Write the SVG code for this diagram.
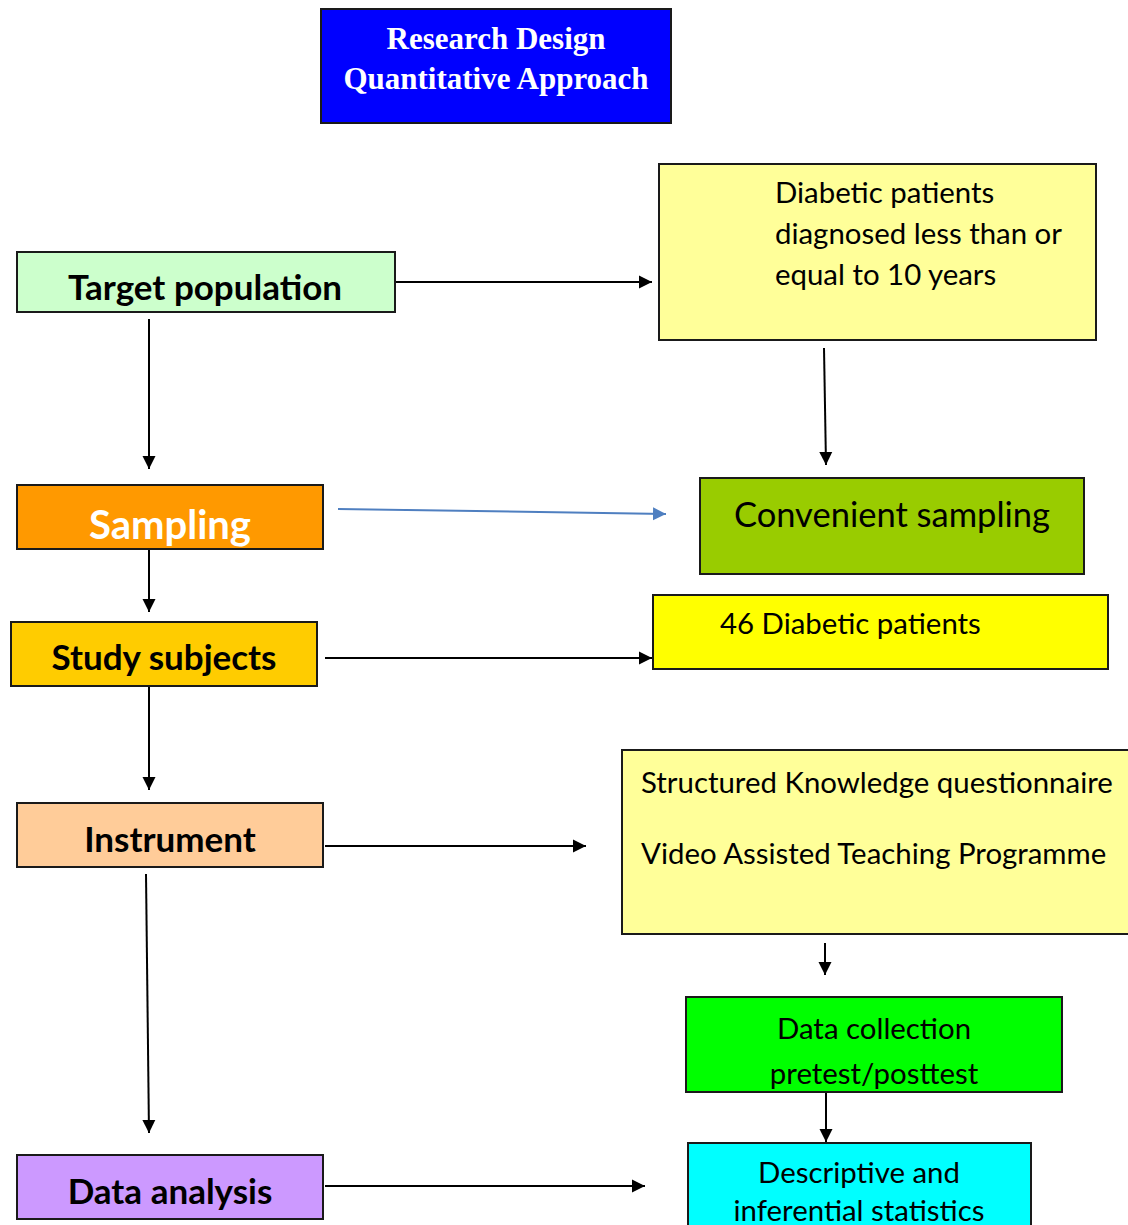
<svg xmlns="http://www.w3.org/2000/svg" width="1128" height="1225" viewBox="0 0 1128 1225">
<style>
.box{stroke:#1a1a1a;stroke-width:2}
.t{font-family:Lato,"Open Sans","Liberation Sans",sans-serif;fill:#000}
.b{font-weight:bold;font-size:35px}
.n{font-size:29.4px}
.c{stroke:#000;stroke-width:2;fill:none;marker-end:url(#ah)}
</style>
<defs>
<marker id="ah" viewBox="0 0 10 10" refX="10" refY="5" markerWidth="13" markerHeight="14" markerUnits="userSpaceOnUse" orient="auto"><path d="M0,0L10,5L0,10z" fill="#000"/></marker>
<marker id="ahb" viewBox="0 0 10 10" refX="10" refY="5" markerWidth="13" markerHeight="14" markerUnits="userSpaceOnUse" orient="auto"><path d="M0,0L10,5L0,10z" fill="#4F7FC0"/></marker>
</defs>
<rect width="1128" height="1225" fill="#fff"/>
<g id="connectors">
<path class="c" d="M396,282H652"/>
<path class="c" d="M149,319V469"/>
<path class="c" d="M824,348L826,465"/>
<path d="M338,509L666,514" stroke="#4F7FC0" stroke-width="2" fill="none" marker-end="url(#ahb)"/>
<path class="c" d="M149,549V612"/>
<path class="c" d="M325,658H652"/>
<path class="c" d="M149,683V790"/>
<path class="c" d="M325,846H586"/>
<path class="c" d="M825,943L825,975"/>
<path class="c" d="M146,874L149,1133"/>
<path class="c" d="M826,1093V1142"/>
<path class="c" d="M325,1186H645"/>
</g>
<g id="title">
<rect class="box" x="321" y="9" width="350" height="114" fill="#0000FF"/>
<text x="496" y="49" text-anchor="middle" font-family="'Liberation Serif',serif" font-weight="bold" font-size="31" fill="#fff">Research Design</text>
<text x="496" y="89" text-anchor="middle" font-family="'Liberation Serif',serif" font-weight="bold" font-size="31" fill="#fff">Quantitative Approach</text>
</g>
<g id="target-population">
<rect class="box" x="17" y="252" width="378" height="60" fill="#CCFFCC"/>
<text class="t b" x="205" y="300" text-anchor="middle">Target population</text>
</g>
<g id="diabetic-patients">
<rect class="box" x="659" y="164" width="437" height="176" fill="#FFFF99"/>
<text class="t n" x="775" y="203">Diabetic patients</text>
<text class="t n" x="775" y="244">diagnosed less than or</text>
<text class="t n" x="775" y="285">equal to 10 years</text>
</g>
<g id="sampling">
<rect class="box" x="17" y="485" width="306" height="64" fill="#FF9900"/>
<text class="t" x="170" y="539" text-anchor="middle" font-weight="bold" font-size="40" style="fill:#fff">Sampling</text>
</g>
<g id="convenient-sampling">
<rect class="box" x="700" y="478" width="384" height="96" fill="#99CC00"/>
<text class="t" x="892" y="527" text-anchor="middle" font-size="34.5">Convenient sampling</text>
</g>
<g id="study-subjects">
<rect class="box" x="11" y="622" width="306" height="64" fill="#FFCC00"/>
<text class="t b" x="164" y="670" text-anchor="middle">Study subjects</text>
</g>
<g id="patients-46">
<rect class="box" x="653" y="595" width="455" height="74" fill="#FFFF00"/>
<text class="t n" x="720" y="634">46 Diabetic patients</text>
</g>
<g id="instrument">
<rect class="box" x="17" y="803" width="306" height="64" fill="#FFCC99"/>
<text class="t b" x="170" y="852" text-anchor="middle">Instrument</text>
</g>
<g id="tools">
<rect class="box" x="622" y="750" width="515" height="184" fill="#FFFF99"/>
<text class="t n" x="641" y="793">Structured Knowledge questionnaire</text>
<text class="t n" x="641" y="864">Video Assisted Teaching Programme</text>
</g>
<g id="data-collection">
<rect class="box" x="686" y="997" width="376" height="95" fill="#00FF00"/>
<text class="t n" x="874" y="1039" text-anchor="middle">Data collection</text>
<text class="t n" x="874" y="1084" text-anchor="middle">pretest/posttest</text>
</g>
<g id="statistics">
<rect class="box" x="688" y="1143" width="343" height="95" fill="#00FFFF"/>
<text class="t n" x="859" y="1183" text-anchor="middle">Descriptive and</text>
<text class="t n" x="859" y="1221" text-anchor="middle">inferential statistics</text>
</g>
<g id="data-analysis">
<rect class="box" x="17" y="1155" width="306" height="64" fill="#CC99FF"/>
<text class="t b" x="170" y="1204" text-anchor="middle">Data analysis</text>
</g>
</svg>
